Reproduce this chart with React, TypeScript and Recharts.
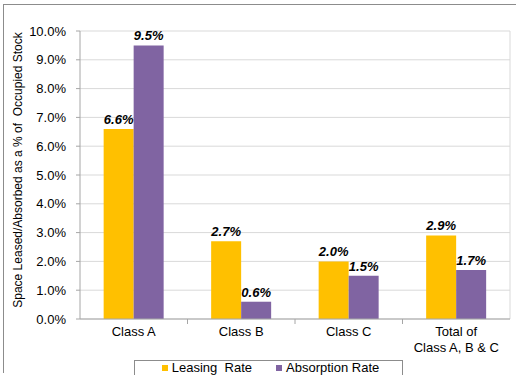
import { Bar, BarChart, CartesianGrid, LabelList, XAxis, YAxis } from "recharts";

const categories = ["Class A", "Class B", "Class C", "Total of\nClass A, B & C"];
const leasingRate = [6.6, 2.7, 2.0, 2.9];
const absorptionRate = [9.5, 0.6, 1.5, 1.7];
const yTicks = [0, 1, 2, 3, 4, 5, 6, 7, 8, 9, 10];

const LEASING = "#FFC000";
const ABSORPTION = "#8064A2";
const FONT = "'Liberation Sans', Arial, sans-serif";

const data = categories.map((name, i) => ({
  name,
  leasing: leasingRate[i],
  absorption: absorptionRate[i],
}));

const pct = (v: unknown) => `${Number(v).toFixed(1)}%`;

function CategoryTick(props: any) {
  const { x, y, payload, index, width, visibleTicksCount } = props;
  const band = width / visibleTicksCount;
  const lines = String(payload.value).split("\n");
  return (
    <g>
      {index > 0 && (
        <line x1={x - band / 2} x2={x - band / 2} y1={y - 8} y2={y - 3} stroke="#a6a6a6" />
      )}
      <text x={x} y={y + 9} textAnchor="middle" fontSize={13} fontFamily={FONT} fill="#000">
        {lines.map((l, i) => (
          <tspan key={i} x={x} dy={i === 0 ? 0 : 16}>
            {l}
          </tspan>
        ))}
      </text>
    </g>
  );
}

function LegendBox() {
  const items = [
    { label: "Leasing  Rate", color: LEASING },
    { label: "Absorption Rate", color: ABSORPTION },
  ];
  return (
    <div
      style={{
        position: "absolute",
        left: 134,
        top: 360,
        width: 269,
        height: 30,
        border: "1px solid #8c8c8c",
        background: "#fff",
        display: "flex",
        justifyContent: "center",
        alignItems: "flex-start",
        gap: 24,
        fontFamily: FONT,
        fontSize: 13,
        lineHeight: "13px",
        boxSizing: "border-box",
        paddingLeft: 4,
      }}
    >
      {items.map((it) => (
        <span key={it.label} style={{ display: "flex", alignItems: "center", whiteSpace: "pre" }}>
          <span style={{ width: 6, height: 6, background: it.color, marginRight: 4, display: "inline-block" }} />
          {it.label}
        </span>
      ))}
    </div>
  );
}

export default function App() {
  return (
    <div style={{ position: "absolute", left: 0, top: 0, width: 516, height: 375, overflow: "hidden", background: "#fff" }}>
      <div
        style={{
          position: "absolute",
          left: 3,
          top: 4,
          width: 600,
          height: 368,
          borderLeft: "1px solid #8c8c8c",
          borderTop: "1px solid #8c8c8c",
        }}
      />
      <BarChart
        width={516}
        height={375}
        data={data}
        margin={{ top: 31, right: 6, left: 0, bottom: 16 }}
        barGap={0}
        barCategoryGap="22%"
        style={{ position: "absolute", left: 0, top: 0 }}
      >
        <CartesianGrid
          stroke="#d9d9d9"
          verticalCoordinatesGenerator={({ offset }: any) => [offset.left + offset.width]}
        />
        <XAxis
          dataKey="name"
          height={40}
          interval={0}
          tickLine={false}
          axisLine={{ stroke: "#a6a6a6" }}
          tick={<CategoryTick />}
        />
        <YAxis
          width={80}
          domain={[0, 10]}
          ticks={yTicks}
          interval={0}
          tickFormatter={pct}
          tickSize={4}
          tickMargin={10}
          tickLine={{ stroke: "#a6a6a6" }}
          axisLine={{ stroke: "#a6a6a6" }}
          tick={{ fontSize: 13, fontFamily: FONT, fill: "#000" }}
          label={{
            content: () => (
              <text
                x={18}
                y={170}
                transform="rotate(-90 18 170)"
                textAnchor="middle"
                dominantBaseline="central"
                fontSize={12}
                fontFamily={FONT}
                fill="#000"
                style={{ whiteSpace: "pre" }}
              >
                Space Leased/Absorbed as a % of  Occupied Stock
              </text>
            ),
          }}
        />
        <Bar dataKey="leasing" name="Leasing  Rate" fill={LEASING} isAnimationActive={false}>
          <LabelList
            dataKey="leasing"
            position="top"
            offset={5}
            formatter={pct}
            style={{ fontSize: 13, fontFamily: FONT, fontWeight: "bold", fontStyle: "italic", fill: "#000" }}
          />
        </Bar>
        <Bar dataKey="absorption" name="Absorption Rate" fill={ABSORPTION} isAnimationActive={false}>
          <LabelList
            dataKey="absorption"
            position="top"
            offset={5}
            formatter={pct}
            style={{ fontSize: 13, fontFamily: FONT, fontWeight: "bold", fontStyle: "italic", fill: "#000" }}
          />
        </Bar>
      </BarChart>
      <LegendBox />
    </div>
  );
}
